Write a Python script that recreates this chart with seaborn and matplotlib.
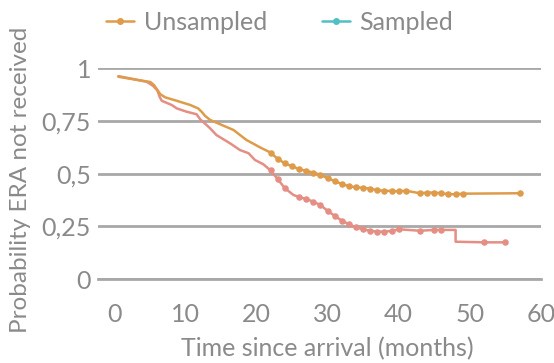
import matplotlib
matplotlib.use("Agg")
import pandas as pd
import matplotlib.pyplot as plt
import seaborn as sns
from matplotlib.lines import Line2D

# =============================================================================
# Data (months since arrival, probability ERA not received)
# mark = 1 where the curve carries a dot
# =============================================================================
unsampled_month = [0.6, 2.7, 5.1, 5.6, 6.1, 6.5, 7.2, 8.8, 10.7, 11.8, 12.3, 12.8,
                   13.5, 16.8, 18.6, 20.5,
                   22, 23, 24, 25, 26, 27, 28, 29, 30, 31, 32, 33, 34, 35, 36,
                   37, 38, 39, 40, 41, 43, 44, 45, 46, 47, 48, 49, 57]
unsampled_prob = [0.960, 0.948, 0.935, 0.921, 0.897, 0.877, 0.862, 0.846, 0.826,
                  0.810, 0.794, 0.774, 0.755, 0.707, 0.660, 0.625,
                  0.600, 0.570, 0.549, 0.535, 0.522, 0.513, 0.505, 0.495, 0.478,
                  0.465, 0.451, 0.441, 0.435, 0.433, 0.429, 0.421, 0.419, 0.418,
                  0.416, 0.419, 0.407, 0.410, 0.410, 0.407, 0.403, 0.402, 0.405,
                  0.407]
unsampled_mark = [0] * 16 + [1] * 28

sampled_month = [0.6, 2.7, 4.6, 5.5, 6.1, 6.4, 6.7, 8.1, 8.8, 10.2, 11.6, 12.1,
                 13.0, 13.5, 14.4, 16.3, 17.7, 18.9, 19.8, 21.0,
                 22, 23, 24, 25.2, 26, 27, 28, 29, 30, 31, 32, 33, 34, 35, 36,
                 37, 38, 39, 40, 43, 45, 46, 48, 48, 52, 55]
sampled_prob = [0.963, 0.949, 0.936, 0.916, 0.894, 0.865, 0.846, 0.826, 0.810,
                0.794, 0.782, 0.758, 0.731, 0.715, 0.683, 0.644, 0.612, 0.597,
                0.565, 0.544,
                0.515, 0.474, 0.431, 0.399, 0.389, 0.380, 0.367, 0.351, 0.324,
                0.300, 0.277, 0.260, 0.245, 0.236, 0.229, 0.225, 0.225, 0.228,
                0.236, 0.229, 0.233, 0.233, 0.233, 0.177, 0.174, 0.174]
sampled_mark = [0] * 20 + [1, 1, 1, 0] + [1] * 18 + [0, 0, 1, 1]

x_ticks = [0, 10, 20, 30, 40, 50, 60]
y_ticks = [0, 0.25, 0.5, 0.75, 1]
y_tick_labels = ["0", "0,25", "0,5", "0,75", "1"]

## Colours
ORANGE = "#DE9C4A"
SALMON = "#E58E84"
TEAL = "#52BFC5"
TEXT = "#8A8A8A"
GRID = "#A8A8A8"

unsampled = pd.DataFrame({"month": unsampled_month, "prob": unsampled_prob,
                          "mark": unsampled_mark})
sampled = pd.DataFrame({"month": sampled_month, "prob": sampled_prob,
                        "mark": sampled_mark})

# =============================================================================
# Plot
# =============================================================================
sns.set_style("white")
plt.rcParams['font.family'] = ['Lato', 'DejaVu Sans']
plt.rcParams['font.size'] = 18

fig = plt.figure(figsize=(5.54, 3.63), dpi=100)
ax = fig.add_axes([0.177, 0.2314, 0.7995, 0.5804])

for df, col in [(sampled, SALMON), (unsampled, ORANGE)]:
    sns.lineplot(data=df, x="month", y="prob", estimator=None, sort=False,
                 color=col, lw=1.8, ax=ax, zorder=3)
    sns.scatterplot(data=df[df["mark"] == 1], x="month", y="prob", color=col,
                    s=22, linewidth=0, ax=ax, zorder=4)

ax.set_xlim(-2.25, 60)
ax.set_ylim(0, 1)
ax.set_xticks(x_ticks)
ax.set_yticks(y_ticks)
ax.set_yticklabels(y_tick_labels)

ax.yaxis.grid(True, color=GRID, lw=2)
ax.set_axisbelow(True)
for side in ["top", "right", "left"]:
    ax.spines[side].set_visible(False)
ax.spines["bottom"].set_color(GRID)
ax.spines["bottom"].set_linewidth(2)

ax.tick_params(axis="x", direction="out", length=6.5, width=1.5, color=GRID,
               labelcolor=TEXT, labelsize=18, pad=11)
ax.tick_params(axis="y", length=0, labelcolor=TEXT, labelsize=18, pad=5)

ax.set_xlabel("Time since arrival (months)", color=TEXT, fontsize=18)
ax.set_ylabel("Probability ERA not received", color=TEXT, fontsize=17.5)
ax.xaxis.set_label_coords(0.517, -0.33)
ax.yaxis.set_label_coords(-0.176, 0.47)
ax.xaxis.label.set_va("center")
ax.yaxis.label.set_va("center")

## Legend (Sampled shown in teal, as in the source)
handles = [Line2D([], [], color=ORANGE, lw=1.8, marker="o", markersize=4),
           Line2D([], [], color=TEAL, lw=1.8, marker="o", markersize=4)]
fig.legend(handles, ["Unsampled", "Sampled"], loc="center",
           bbox_to_anchor=(0.505, 0.939), ncol=2, frameon=False,
           handlelength=1.1, handletextpad=0.4, columnspacing=2.2,
           labelcolor=TEXT, fontsize=18)

plt.savefig("out.png", dpi=100)
